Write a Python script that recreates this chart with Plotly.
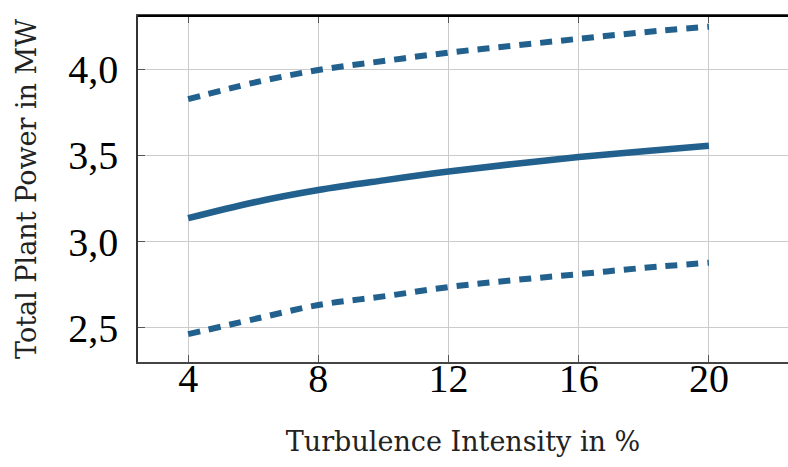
import plotly.graph_objects as go

ti = [4, 6, 8, 10, 12, 14, 16, 18, 20]
power_mean = [3.136, 3.227, 3.299, 3.355, 3.406, 3.450, 3.490, 3.524, 3.556]
power_upper = [3.825, 3.920, 3.994, 4.046, 4.095, 4.135, 4.175, 4.213, 4.245]
power_lower = [2.464, 2.550, 2.633, 2.683, 2.737, 2.777, 2.812, 2.848, 2.878]

x_ticks = [4, 8, 12, 16, 20]
y_ticks = [2.5, 3.0, 3.5, 4.0]

color = "#22618d"
font_family = "Liberation Serif"
title_family = "DejaVu Serif"

fig = go.Figure()
fig.add_trace(go.Scatter(x=ti, y=power_upper, mode="lines",
                         line=dict(color=color, width=6, dash="12px,9px", shape="spline")))
fig.add_trace(go.Scatter(x=ti, y=power_mean, mode="lines",
                         line=dict(color=color, width=6.5, shape="spline")))
fig.add_trace(go.Scatter(x=ti, y=power_lower, mode="lines",
                         line=dict(color=color, width=6, dash="12px,9px", shape="spline")))

fig.update_layout(
    width=788, height=467,
    margin=dict(l=138, r=0, t=16, b=105),
    paper_bgcolor="white", plot_bgcolor="white",
    showlegend=False,
    separators=",.",
    font=dict(family=font_family, color="black"),
    xaxis=dict(
        range=[2.46, 22.43],
        tickvals=x_ticks,
        ticks="inside", ticklen=7, tickcolor="#555555", tickwidth=1.2,
        mirror="ticks",
        showline=True, linecolor="#444444", linewidth=1.5,
        showgrid=True, gridcolor="#cccccc", gridwidth=1,
        zeroline=False,
        ticklabelstandoff=-20,
        tickfont=dict(size=40, family=font_family, color="black"),
        title=dict(text="Turbulence Intensity in %", font=dict(size=27, family=title_family, color="#222222"),
                   standoff=32),
    ),
    yaxis=dict(
        range=[2.303, 4.307],
        tickvals=y_ticks,
        tickformat=".1f",
        ticks="inside", ticklen=7, tickcolor="#555555", tickwidth=1.2,
        showline=True, linecolor="#333333", linewidth=1.5,
        showgrid=True, gridcolor="#cccccc", gridwidth=1,
        zeroline=False,
        ticklabelstandoff=10,
        tickfont=dict(size=40, family=font_family, color="black"),
        title=dict(text="Total Plant Power in MW", font=dict(size=27, family=title_family, color="#222222"),
                   standoff=24),
    ),
)

fig.add_shape(type="line", xref="paper", yref="paper", x0=0, x1=1, y0=1, y1=1,
              line=dict(color="black", width=2))

fig.write_html("out.html")
